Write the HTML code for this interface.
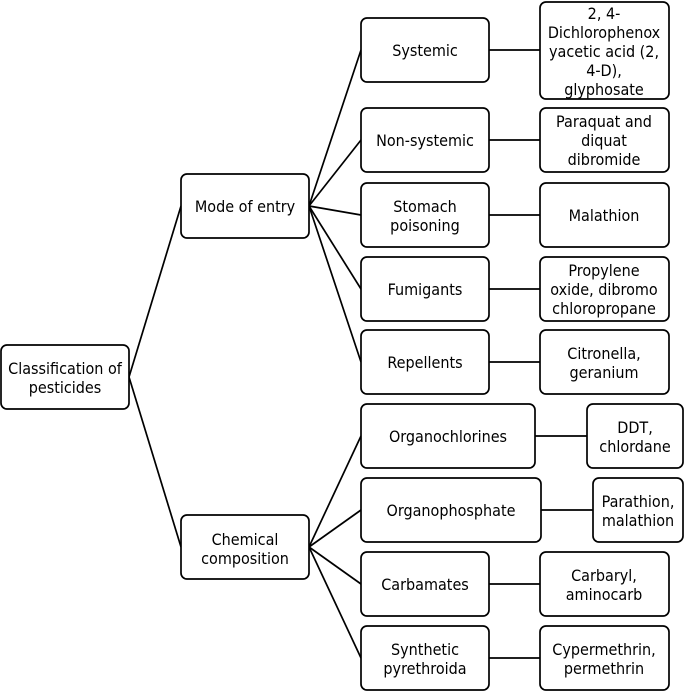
<!DOCTYPE html>
<html><head><meta charset="utf-8"><style>
html,body{margin:0;padding:0;background:#fff;}
svg{display:block;}
text{font-family:"DejaVu Sans Condensed","DejaVu Sans","Liberation Sans",sans-serif;font-size:16px;fill:#000;text-anchor:middle;}
rect{fill:#fff;stroke:#000;stroke-width:1.7;}
line{stroke:#000;stroke-width:1.7;}
</style></head><body>
<svg width="685" height="691" viewBox="0 0 685 691">
<line x1="129" y1="377" x2="181" y2="206"/>
<line x1="129" y1="377" x2="181" y2="547"/>
<line x1="309" y1="206" x2="361" y2="50"/>
<line x1="309" y1="206" x2="361" y2="140"/>
<line x1="309" y1="206" x2="361" y2="215"/>
<line x1="309" y1="206" x2="361" y2="289"/>
<line x1="309" y1="206" x2="361" y2="362"/>
<line x1="309" y1="547" x2="361" y2="436"/>
<line x1="309" y1="547" x2="361" y2="510"/>
<line x1="309" y1="547" x2="361" y2="584"/>
<line x1="309" y1="547" x2="361" y2="658"/>
<line x1="489" y1="50" x2="540" y2="50"/>
<line x1="489" y1="140" x2="540" y2="140"/>
<line x1="489" y1="215" x2="540" y2="215"/>
<line x1="489" y1="289" x2="540" y2="289"/>
<line x1="489" y1="362" x2="540" y2="362"/>
<line x1="535" y1="436" x2="587" y2="436"/>
<line x1="541" y1="510" x2="593" y2="510"/>
<line x1="489" y1="584" x2="540" y2="584"/>
<line x1="489" y1="658" x2="540" y2="658"/>

<rect x="1" y="345" width="128" height="64" rx="6"/>
<text x="65" y="374">Classification of</text><text x="65" y="393">pesticides</text>

<rect x="181" y="174" width="128" height="64" rx="6"/>
<text x="245" y="212">Mode of entry</text>
<rect x="181" y="515" width="128" height="64" rx="6"/>
<text x="245" y="545">Chemical</text><text x="245" y="564">composition</text>

<rect x="361" y="18" width="128" height="64" rx="6"/>
<text x="425" y="56">Systemic</text>
<rect x="540" y="2" width="129" height="97" rx="6"/>
<text x="604" y="19">2, 4-</text><text x="604" y="38">Dichlorophenox</text><text x="604" y="57">yacetic acid (2,</text><text x="604" y="76">4-D),</text><text x="604" y="95">glyphosate</text>

<rect x="361" y="108" width="128" height="64" rx="6"/>
<text x="425" y="146">Non-systemic</text>
<rect x="540" y="108" width="129" height="64" rx="6"/>
<text x="604" y="127">Paraquat and</text><text x="604" y="146">diquat</text><text x="604" y="165">dibromide</text>

<rect x="361" y="183" width="128" height="64" rx="6"/>
<text x="425" y="212">Stomach</text><text x="425" y="231">poisoning</text>
<rect x="540" y="183" width="129" height="64" rx="6"/>
<text x="604" y="221">Malathion</text>

<rect x="361" y="257" width="128" height="64" rx="6"/>
<text x="425" y="295">Fumigants</text>
<rect x="540" y="257" width="129" height="64" rx="6"/>
<text x="604" y="276">Propylene</text><text x="604" y="295">oxide, dibromo</text><text x="604" y="314">chloropropane</text>

<rect x="361" y="330" width="128" height="64" rx="6"/>
<text x="425" y="368">Repellents</text>
<rect x="540" y="330" width="129" height="64" rx="6"/>
<text x="604" y="359">Citronella,</text><text x="604" y="378">geranium</text>

<rect x="361" y="404" width="174" height="64" rx="6"/>
<text x="448" y="442">Organochlorines</text>
<rect x="587" y="404" width="96" height="64" rx="6"/>
<text x="635" y="433">DDT,</text><text x="635" y="452">chlordane</text>

<rect x="361" y="478" width="180" height="64" rx="6"/>
<text x="451" y="516">Organophosphate</text>
<rect x="593" y="478" width="90" height="64" rx="6"/>
<text x="638" y="507">Parathion,</text><text x="638" y="526">malathion</text>

<rect x="361" y="552" width="128" height="64" rx="6"/>
<text x="425" y="590">Carbamates</text>
<rect x="540" y="552" width="129" height="64" rx="6"/>
<text x="604" y="581">Carbaryl,</text><text x="604" y="600">aminocarb</text>

<rect x="361" y="626" width="128" height="64" rx="6"/>
<text x="425" y="655">Synthetic</text><text x="425" y="674">pyrethroida</text>
<rect x="540" y="626" width="129" height="64" rx="6"/>
<text x="604" y="655">Cypermethrin,</text><text x="604" y="674">permethrin</text>
</svg>
</body></html>
